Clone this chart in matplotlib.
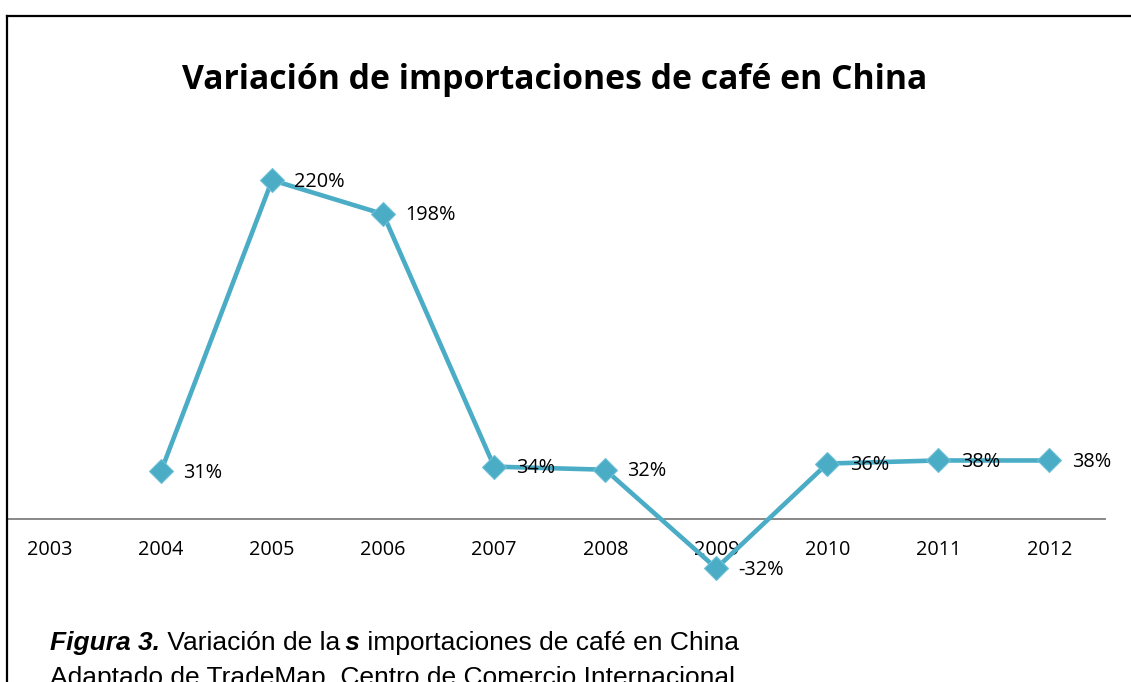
import matplotlib
matplotlib.use("Agg")
import matplotlib.pyplot as plt
from matplotlib.lines import Line2D

# Data
years = ['2003', '2004', '2005', '2006', '2007', '2008', '2009', '2010', '2011', '2012']
variation = [None, 31, 220, 198, 34, 32, -32, 36, 38, 38]  # % change, 2003 has no value
labels = ['', '31%', '220%', '198%', '34%', '32%', '-32%', '36%', '38%', '38%']

title = 'Variación de importaciones de café en China'
line_color = '#4BACC6'

W, H = 1131, 682
fig = plt.figure(figsize=(W / 100, H / 100), dpi=100)

# Axes placement in pixels
ax_left, ax_right, ax_top, ax_bottom = 8, 1105, 160, 600
ax = fig.add_axes([ax_left / W, 1 - ax_bottom / H, (ax_right - ax_left) / W, (ax_bottom - ax_top) / H])

xs = [i for i, v in enumerate(variation) if v is not None]
ys = [v for v in variation if v is not None]
ax.plot(xs, ys, color=line_color, lw=3.3, marker='D', markersize=12,
        markerfacecolor=line_color, markeredgecolor='#6cc0d6', markeredgewidth=0.8,
        solid_joinstyle='miter', zorder=3)

for x, v in zip(xs, ys):
    ax.annotate(labels[x], (x, v), xytext=(16, -1), textcoords='offset points',
                ha='left', va='center', fontsize=14.3, family='Open Sans', color='black')

ax.set_xlim(-0.378, 9.5)
ax.set_ylim(-52.6, 233.1)
for s in ['top', 'right', 'left']:
    ax.spines[s].set_visible(False)
ax.spines['bottom'].set_position(('data', 0))
ax.spines['bottom'].set_color('#888888')
ax.spines['bottom'].set_linewidth(1.4)
ax.set_yticks([])
ax.set_xticks(range(len(years)))
ax.set_xticklabels(years, fontsize=14.3, family='Open Sans')
ax.tick_params(axis='x', length=0, pad=15)
ax.patch.set_alpha(0)

# Title
fig.text(555 / W, 1 - 80 / H, title, ha='center', va='center', fontsize=24.3,
         fontweight='bold', family='Open Sans')

# Frame lines (top and left)
fig.add_artist(Line2D([7 / W, 1], [1 - 16 / H, 1 - 16 / H], color='black', lw=1.6,
                      transform=fig.transFigure))
fig.add_artist(Line2D([7 / W, 7 / W], [1 - 16 / H, 0], color='black', lw=1.6,
                      transform=fig.transFigure))

# Caption with mixed styles
fig.canvas.draw()
renderer = fig.canvas.get_renderer()
parts = [('Figura 3.', 'bold', 'italic'), (' Variación de la', 'normal', 'normal'),
         ('\u2009s', 'bold', 'italic'), (' importaciones de café en China', 'normal', 'normal')]
x = 50
for txt, wgt, sty in parts:
    t = fig.text(x / W, 1 - 650 / H, txt, ha='left', va='baseline', fontsize=19,
                 family='Liberation Sans', fontweight=wgt, fontstyle=sty)
    x = t.get_window_extent(renderer).x1
fig.text(50 / W, 1 - 685 / H, 'Adaptado de TradeMap, Centro de Comercio Internacional',
         ha='left', va='baseline', fontsize=19, family='Liberation Sans')

fig.savefig('out.png', dpi=100)
